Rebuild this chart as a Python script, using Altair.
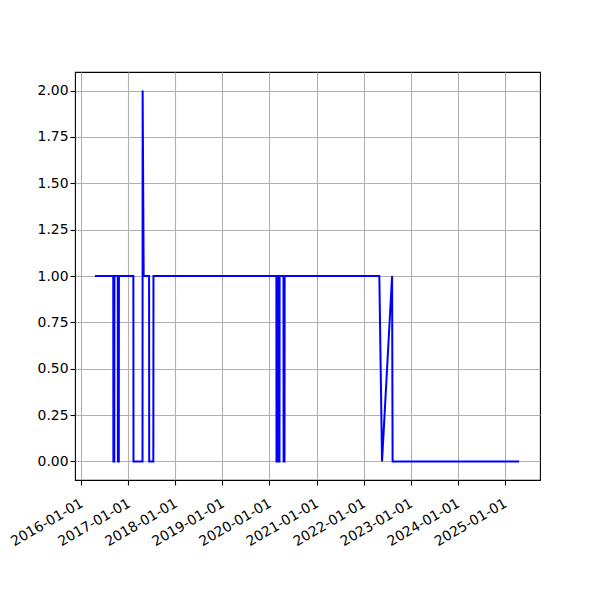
import altair as alt
import pandas as pd

dates = ["2016-04-17", "2016-09-06", "2016-09-07", "2016-09-14", "2016-09-15",
         "2016-10-11", "2016-10-12", "2016-10-19", "2016-10-20",
         "2017-02-09", "2017-02-10", "2017-04-21", "2017-04-22", "2017-04-30",
         "2017-06-11", "2017-06-12", "2017-07-14", "2017-07-15",
         "2020-02-24", "2020-02-25", "2020-03-03", "2020-03-04",
         "2020-03-11", "2020-03-12", "2020-03-19", "2020-03-20",
         "2020-04-19", "2020-04-20", "2020-04-27", "2020-04-28",
         "2022-05-03", "2022-05-24", "2022-08-10", "2022-08-14", "2025-04-22"]
values = [1, 1, 0, 0, 1, 1, 0, 0, 1, 1, 0, 0, 2, 1, 1, 0, 0, 1,
          1, 0, 0, 1, 1, 0, 0, 1, 1, 0, 0, 1, 1, 0, 1, 0, 0]
tick_years = list(range(2016, 2026))
y_ticks = [0, 0.25, 0.5, 0.75, 1.0, 1.25, 1.5, 1.75, 2.0]

df = pd.DataFrame({"date": dates, "value": values})

x_ticks = [alt.DateTime(year=y, month=1, date=1, utc=True) for y in tick_years]

chart = alt.Chart(df).mark_line(color="#0000ff", strokeWidth=2).encode(
    x=alt.X("date:T",
            scale=alt.Scale(type="utc",
                            domain=[alt.DateTime(year=2015, month=11, date=14, utc=True),
                                    alt.DateTime(year=2025, month=10, date=1, utc=True)]),
            axis=alt.Axis(values=x_ticks, format="%Y-%m-%d", title=None,
                          labelAngle=-30, labelAlign="right", labelBaseline="top",
                          labelPadding=11, labelOffset=-3)),
    y=alt.Y("value:Q", scale=alt.Scale(domain=[-0.1, 2.1], nice=False, zero=False),
            axis=alt.Axis(values=y_ticks, format=".2f", title=None)),
).properties(
    width=465, height=408,
    autosize=alt.AutoSizeParams(type="none"),
    padding={"left": 67, "top": 64, "right": 52, "bottom": 104},
).configure_axis(
    grid=True, gridColor="#b0b0b0", gridWidth=1.1,
    domain=False, tickColor="black", tickSize=5, tickWidth=1.1,
    labelFont="DejaVu Sans", labelFontSize=13.9, labelColor="black",
    labelOverlap=False, labelFlush=False,
).configure_view(stroke="black", strokeWidth=1.1)

chart.save("out.html", embed_options={"renderer": "svg", "actions": False})
